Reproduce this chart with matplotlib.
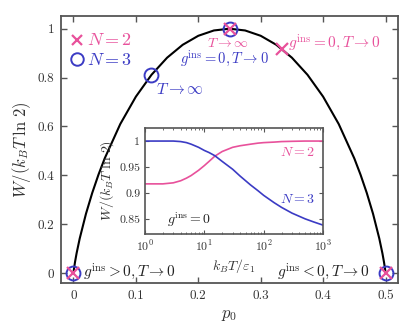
import numpy as np
import matplotlib
matplotlib.use("Agg")
import matplotlib.pyplot as plt
from matplotlib.ticker import LogLocator, NullFormatter

plt.rcParams['font.family'] = 'serif'
plt.rcParams['font.serif'] = ['cmr10']
plt.rcParams['mathtext.fontset'] = 'cm'
plt.rcParams['axes.formatter.use_mathtext'] = True

# Main curve: W/(kB T ln2) vs p0
p0 = [0, 0.0005, 0.001, 0.0025, 0.005, 0.01, 0.02, 0.03, 0.04, 0.05, 0.075, 0.1,
      0.125, 0.15, 0.175, 0.2, 0.225, 0.25,
      0.275, 0.3, 0.325, 0.35, 0.375, 0.4, 0.425, 0.45, 0.46, 0.47, 0.48, 0.49,
      0.495, 0.4975, 0.499, 0.4995, 0.5]
W = [0, 0.0114, 0.0208, 0.0454, 0.0808, 0.1414, 0.2423, 0.3274, 0.4022, 0.4690,
     0.6098, 0.7219, 0.8113, 0.8813, 0.9341, 0.9710, 0.9928, 1.0,
     0.9928, 0.9710, 0.9341, 0.8813, 0.8113, 0.7219, 0.6098, 0.4690, 0.4022,
     0.3274, 0.2423, 0.1414, 0.0808, 0.0454, 0.0208, 0.0114, 0]

# Special points
n2_p0 = [0, 0.25, 1/3, 0.5]
n2_W = [0, 1.0, 0.918, 0]
n3_p0 = [0, 0.125, 0.25, 0.5]
n3_W = [0, 0.811, 1.0, 0]

# Inset: W vs kB T / eps1
kT = [1, 2, 3, 4, 5, 6, 8, 10, 12, 15, 20, 30, 40, 60, 80, 100, 150, 200, 300, 500, 700, 1000]
W_n2 = [0.918, 0.918, 0.920, 0.924, 0.929, 0.934, 0.944, 0.953, 0.961, 0.971, 0.980,
        0.988, 0.991, 0.994, 0.996, 0.997, 0.998, 0.999, 0.9995, 1.0, 1.0, 1.0]
W_n3 = [1.0, 1.0, 1.0, 0.999, 0.997, 0.994, 0.988, 0.982, 0.978, 0.972, 0.961,
        0.946, 0.933, 0.916, 0.905, 0.896, 0.882, 0.873, 0.862, 0.851, 0.845, 0.839]

pink = '#E8519B'
blue = '#3B3BC4'
spc = '#555555'

fig = plt.figure(figsize=(4.15, 3.24), dpi=100)
ax = fig.add_axes([61/415, 1 - 283/324, 337/415, 267/324])

ax.plot(p0, W, color='black', lw=1.5, zorder=2)
ax.plot(n2_p0, n2_W, ls='none', marker='x', ms=8, mew=1.6, color=pink, zorder=4, clip_on=False)
ax.plot(n3_p0, n3_W, ls='none', marker='o', ms=10, mew=1.4, mfc='none', color=blue, zorder=3, clip_on=False)

ax.set_xlim(-0.02, 0.52)
ax.set_ylim(-0.041, 1.052)
ax.set_xticks([0, 0.1, 0.2, 0.3, 0.4, 0.5])
ax.set_xticklabels(['0', '0.1', '0.2', '0.3', '0.4', '0.5'])
ax.set_yticks([0, 0.2, 0.4, 0.6, 0.8, 1])
ax.set_yticklabels(['0', '0.2', '0.4', '0.6', '0.8', '1'])
ax.tick_params(direction='in', top=True, right=True, labelsize=9.5, length=4,
               width=1, color=spc, labelcolor='#333333', pad=5)
for s in ax.spines.values():
    s.set_color(spc)
    s.set_linewidth(1.3)
ax.set_xlabel(r'$p_0$', fontsize=12, color='#333333')
ax.set_ylabel(r'$W/(k_BT\;\ln\,2)$', fontsize=12, color='#333333', labelpad=3)

# legend
ax.plot([0.006], [0.955], ls='none', marker='x', ms=7, mew=1.6, color=pink)
ax.plot([0.006], [0.876], ls='none', marker='o', ms=9, mew=1.4, mfc='none', color=blue)
ax.text(0.021, 0.932, r'$N=2$', color=pink, fontsize=13, va='baseline')
ax.text(0.021, 0.853, r'$N=3$', color=blue, fontsize=13, va='baseline')

# annotations
ax.text(0.133, 0.734, r'$T\rightarrow\infty$', color=blue, fontsize=11.5, va='baseline')
ax.text(0.247, 0.926, r'$T\rightarrow\infty$', color=pink, fontsize=10, va='baseline', ha='center')
ax.text(0.242, 0.857, r'$g^{\mathrm{ins}}=0,T\rightarrow 0$', color=blue, fontsize=10.5, va='baseline', ha='center')
ax.text(0.343, 0.922, r'$g^{\mathrm{ins}}=0,T\rightarrow 0$', color=pink, fontsize=11, va='baseline')
ax.text(0.0157, -0.014, r'$g^{\mathrm{ins}}>0,T\rightarrow 0$', color='#222222', fontsize=11, va='baseline')
ax.text(0.475, -0.014, r'$g^{\mathrm{ins}}<0,T\rightarrow 0$', color='#222222', fontsize=11, va='baseline', ha='right')

# inset
ins = fig.add_axes([145/415, 1 - 234/324, 178/415, 106/324])
ins.plot(kT, W_n2, color=pink, lw=1.2)
ins.plot(kT, W_n3, color=blue, lw=1.2)
ins.set_xscale('log')
ins.set_xlim(1, 1000)
ins.set_ylim(0.822, 1.025)
ins.set_yticks([0.85, 0.9, 0.95, 1])
ins.set_yticklabels(['0.85', '0.9', '0.95', '1'])
ins.xaxis.set_major_locator(LogLocator(base=10, numticks=5))
ins.xaxis.set_minor_locator(LogLocator(base=10, subs=np.arange(2, 10), numticks=20))
ins.xaxis.set_minor_formatter(NullFormatter())
ins.tick_params(which='both', direction='in', top=True, right=True, labelsize=8.5,
                color=spc, labelcolor='#333333')
ins.tick_params(which='major', length=3)
ins.tick_params(which='minor', length=1.5)
for s in ins.spines.values():
    s.set_color(spc)
    s.set_linewidth(1.2)
ins.set_xlabel(r'$k_BT/\varepsilon_1$', fontsize=10, color='#333333', labelpad=2)
ins.set_ylabel(r'$W/(k_BT\;\ln\,2)$', fontsize=10, color='#333333', labelpad=2)
ins.text(0.955, 0.767, r'$N=2$', color=pink, fontsize=10, transform=ins.transAxes, ha='right', va='center')
ins.text(0.955, 0.327, r'$N=3$', color=blue, fontsize=10, transform=ins.transAxes, ha='right', va='center')
ins.text(0.122, 0.139, r'$g^{\mathrm{ins}}=0$', color='#222222', fontsize=10, transform=ins.transAxes, va='center')

fig.savefig('out.png', dpi=100)
